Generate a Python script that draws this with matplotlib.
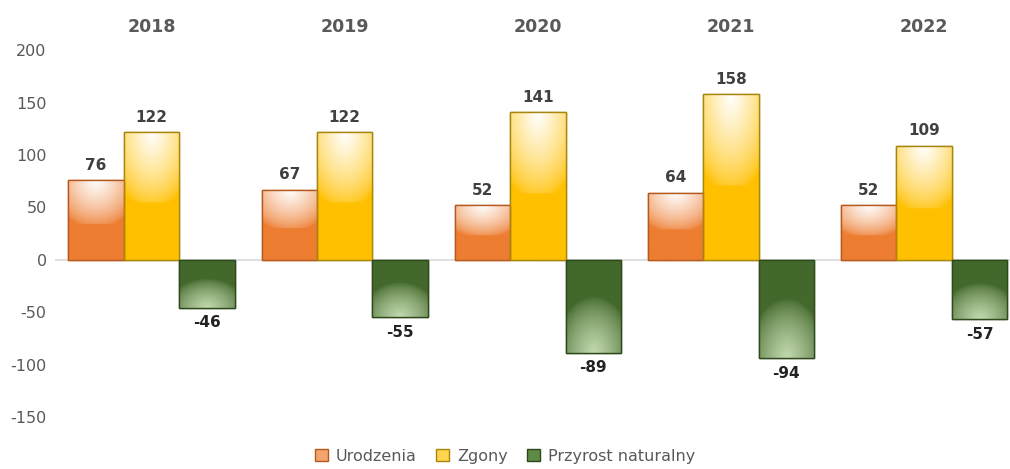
import matplotlib.pyplot as plt
import numpy as np
from matplotlib.patches import Patch

plt.rcParams['axes.unicode_minus'] = False

years = ['2018', '2019', '2020', '2021', '2022']
urodzenia = [76, 67, 52, 64, 52]
zgony = [122, 122, 141, 158, 109]
przyrost = [-46, -55, -89, -94, -57]

fig = plt.figure(figsize=(10.1, 4.69), dpi=100)
ax = fig.add_axes([0.0545, 0.111, 0.9455, 0.782])

x = np.arange(len(years))
w = 0.287

series = [
    (urodzenia, -w, '#ED7D31', '#B55A1E', 'Urodzenia'),
    (zgony, 0, '#FFC000', '#A8860E', 'Zgony'),
    (przyrost, w, '#43682B', '#2E4A1D', 'Przyrost naturalny'),
]


def gradient(base, up):
    # radial highlight near the top (positive) or bottom (negative)
    n = 80
    yy, xx = np.mgrid[0:1:n * 1j, -1:1:n * 1j]
    c = np.array(plt.matplotlib.colors.to_rgb(base))
    if up:
        d = np.sqrt((xx / 1.6) ** 2 + (yy / 0.6) ** 2)
        wgt = np.clip(1 - d, 0, 1) ** 0.7
        wgt[yy > 0.55] = 0
        light = np.array([1, 1, 1])
    else:
        d = np.sqrt((xx / 1.4) ** 2 + ((1 - yy) / 0.6) ** 2)
        wgt = np.clip(1 - d, 0, 1) ** 0.7 * 0.85
        wgt[yy < 0.4] = 0
        light = np.array([0.85, 0.93, 0.78])
    img = c[None, None, :] * (1 - wgt[..., None]) + light[None, None, :] * wgt[..., None]
    return img


for vals, off, col, edge, name in series:
    bars = ax.bar(x + off, vals, w, color=col, edgecolor=edge, linewidth=1, zorder=2)
    for b, v in zip(bars, vals):
        x0 = b.get_x()
        x1 = x0 + b.get_width()
        img = gradient(col, v > 0)[::-1]
        ext = (x0, x1, min(0, v), max(0, v))
        im = ax.imshow(img, extent=ext, aspect='auto', origin='lower', zorder=2.5,
                       interpolation='bilinear')
        im.set_clip_path(b)
        rect = plt.Rectangle((x0, min(0, v)), x1 - x0, abs(v), fill=False,
                             edgecolor=edge, linewidth=1, zorder=3)
        ax.add_patch(rect)
        if v > 0:
            ax.text(x0 + w / 2, v + 7, str(v), ha='center', va='bottom',
                    fontsize=11, fontweight='bold', color='#404040')
        else:
            ax.text(x0 + w / 2, v - 7, str(v), ha='center', va='top',
                    fontsize=11, fontweight='bold', color='#222222')

for i, yr in enumerate(years):
    ax.text(i, 222, yr, ha='center', va='center', fontsize=12.5,
            fontweight='bold', color='#595959')

ax.axhline(0, color='#D9D9D9', linewidth=1.2, zorder=1)
ax.set_xlim(-0.5, 4.445)
ax.set_ylim(-150, 200)
ax.set_yticks([-150, -100, -50, 0, 50, 100, 150, 200])
ax.tick_params(axis='y', length=0, labelsize=11.5, labelcolor='#595959', pad=6)
ax.set_xticks([])
for s in ax.spines.values():
    s.set_visible(False)

handles = [Patch(facecolor='#F4A46E', edgecolor='#B55A1E', label='Urodzenia'),
           Patch(facecolor='#FFD54F', edgecolor='#A8860E', label='Zgony'),
           Patch(facecolor='#5E8A45', edgecolor='#2E4A1D', label='Przyrost naturalny')]
fig.legend(handles=handles, loc='center', bbox_to_anchor=(0.5, 0.027), ncol=3,
           frameon=False, fontsize=11.5, handlelength=0.8, handleheight=0.8,
           handletextpad=0.5, columnspacing=1.2, labelcolor='#595959')

fig.savefig('out.png', dpi=100)
